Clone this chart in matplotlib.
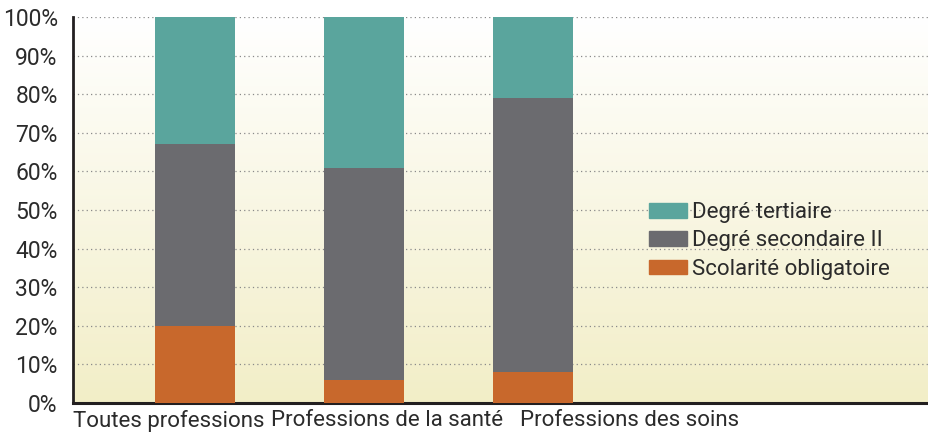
import numpy as np
import matplotlib
matplotlib.use("Agg")
import matplotlib.pyplot as plt
from matplotlib.colors import LinearSegmentedColormap
from matplotlib.patches import Patch

categories = ["Toutes professions", "Professions de la santé", "Professions des soins"]
obligatoire = [20, 6, 8]
secondaire = [47, 55, 71]
tertiaire = [33, 39, 21]
series_names = ["Degré tertiaire", "Degré secondaire II", "Scolarité obligatoire"]
yticks = [0, 10, 20, 30, 40, 50, 60, 70, 80, 90, 100]
ytick_labels = [f"{v}%" for v in yticks]

c_ter = "#5aa59d"
c_sec = "#6b6b6f"
c_obl = "#c8682c"
txt = "#2b2b2b"

plt.rcParams['font.family'] = ['Roboto', 'DejaVu Sans']

fig = plt.figure(figsize=(9.29, 4.32), dpi=100)
ax = fig.add_axes([73/929, (432-403)/432, (929-73)/929, (403-17)/432])

# background gradient
cmap = LinearSegmentedColormap.from_list("bg", ["#ffffff", "#f2eec7"])
grad = np.linspace(0, 1, 256).reshape(-1, 1)
ax.imshow(grad, aspect='auto', cmap=cmap, extent=[0, 1, 0, 1], transform=ax.transAxes, zorder=0)

x = np.arange(len(categories))
w = 0.473
b1 = np.array(obligatoire)
b2 = b1 + np.array(secondaire)
ax.bar(x, obligatoire, w, color=c_obl, zorder=3)
ax.bar(x, secondaire, w, bottom=b1, color=c_sec, zorder=3)
ax.bar(x, tertiaire, w, bottom=b2, color=c_ter, zorder=3)

ax.set_xlim(-0.722, 4.343)
ax.set_ylim(0, 100)
ax.set_yticks(yticks)
ax.set_yticklabels(ytick_labels, fontsize=16.5, color=txt)
ax.tick_params(axis='y', length=0, pad=11)
ax.set_xticks([])
for v in yticks[1:]:
    ax.axhline(v, color="#8a8a8a", lw=0.9, ls=(0, (1, 2.5)), zorder=1)

for s in ["top", "right"]:
    ax.spines[s].set_visible(False)
ax.spines["left"].set_linewidth(2)
ax.spines["bottom"].set_linewidth(2.2)
ax.spines["left"].set_color("#231f20")
ax.spines["bottom"].set_color("#231f20")

label_x = [-0.154, 1.136, 2.574]
for lx, lab in zip(label_x, categories):
    ax.text(lx, -1.8, lab, ha='center', va='top', fontsize=16, color=txt,
            transform=ax.transData)

handles = [Patch(color=c_ter), Patch(color=c_sec), Patch(color=c_obl)]
leg = ax.legend(handles, series_names, loc='center left', bbox_to_anchor=(0.673, 0.42),
                frameon=False, fontsize=16, handlelength=1.71, handleheight=0.63,
                handletextpad=0.23, labelspacing=0.33, borderpad=0, borderaxespad=0)
for t in leg.get_texts():
    t.set_color(txt)

fig.savefig("out.png", dpi=100)
